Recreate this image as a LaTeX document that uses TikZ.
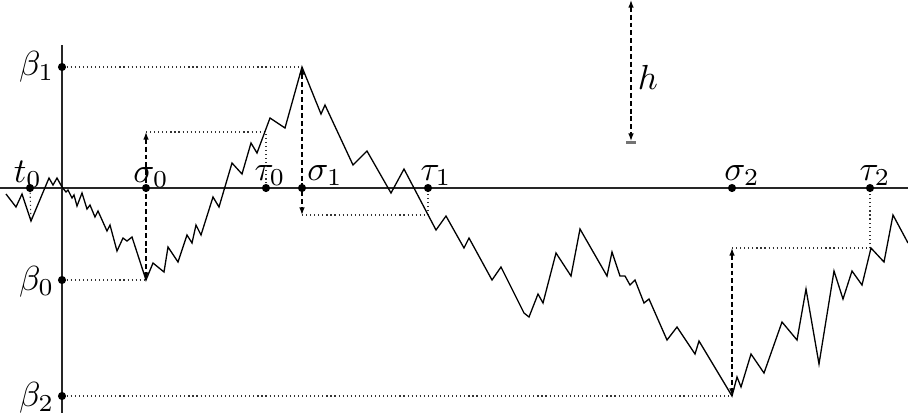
\documentclass[tikz,border=0pt]{standalone}
\usetikzlibrary{arrows.meta}
\begin{document}
\begin{tikzpicture}[x=0.345pt,y=-0.345pt,
  axisline/.style={line width=0.5pt,black!85},
  dotmark/.style={circle,fill=black,inner sep=0pt,minimum size=2.8pt},
  guide/.style={densely dotted,line width=0.4pt,black!80},
  harrow/.style={dash pattern=on 1.7pt off 1pt,line width=0.45pt,{Latex[length=2.6pt,width=1.9pt]}-{Latex[length=2.6pt,width=1.9pt]}},
  walk/.style={line width=0.45pt,line join=miter},
  lab/.style={anchor=base,inner sep=0pt,scale=1.2},
  ylab/.style={anchor=east,inner sep=0pt,scale=1.2}]
\useasboundingbox (0,0) rectangle (908,419);
% axes
\coordinate (xl) at (0,188);
\coordinate (xr) at (908,188);
\coordinate (yt) at (62,45);
\coordinate (yb) at (62,413);
\draw[axisline] (xl) -- (xr);
\draw[axisline] (yt) -- (yb);
% marked points on the axes
\node[dotmark] (t0) at (30,188) {};
\node[dotmark] (s0) at (146,188) {};
\node[dotmark] (u0) at (266,188) {};
\node[dotmark] (s1) at (302,188) {};
\node[dotmark] (u1) at (428,188) {};
\node[dotmark] (s2) at (732,188) {};
\node[dotmark] (u2) at (870,188) {};
\node[dotmark] (b1) at (62,67) {};
\node[dotmark] (b0) at (62,280) {};
\node[dotmark] (b2) at (62,396) {};
% labels
\node[lab] (lt0) at (28,182) {$t_0$};
\node[lab] (ls0) at (151,182) {$\sigma_0$};
\node[lab] (lu0) at (270,180) {$\tau_0$};
\node[lab] (ls1) at (325,180) {$\sigma_1$};
\node[lab] (lu1) at (436,180) {$\tau_1$};
\node[lab] (ls2) at (742,180) {$\sigma_2$};
\node[lab] (lu2) at (875,180) {$\tau_2$};
\node[ylab] (lb1) at (55,67) {$\beta_1$};
\node[ylab] (lb0) at (55,282) {$\beta_0$};
\node[ylab] (lb2) at (55,398) {$\beta_2$};
\node[inner sep=0pt,scale=1.2] (lh) at (648,77) {$h$};
% guide coordinates
\coordinate (m0) at (31,221);
\coordinate (p0) at (146,280);
\coordinate (q0) at (146,132);
\coordinate (r0) at (266,132);
\coordinate (p1) at (302,67);
\coordinate (q1) at (302,215);
\coordinate (r1) at (428,215);
\coordinate (p2) at (732,396);
\coordinate (q2) at (732,248);
\coordinate (r2) at (870,248);
\coordinate (ht) at (631,0);
\coordinate (hb) at (631,141);
\coordinate (hbl) at (626,142.5);
\coordinate (hbr) at (636,142.5);
% dotted guides
\draw[guide] (t0) -- (m0);
\draw[guide] (b0) -- (p0);
\draw[guide] (b1) -- (p1);
\draw[guide] (b2) -- (p2);
\draw[guide] (q0) -- (r0) -- (u0);
\draw[guide] (q1) -- (r1) -- (u1);
\draw[guide] (q2) -- (r2) -- (u2);
% dashed double arrows of length h
\draw[harrow] (q0) -- (p0);
\draw[harrow] (p1) -- (q1);
\draw[harrow] (q2) -- (p2);
\draw[harrow] (ht) -- (hb);
\draw[line width=0.8pt,black!55] (hbl) -- (hbr);
% the walk
\draw[walk] (6,194) -- (16,207) -- (22,194) -- (31,221) -- (49,178) -- (53,185) -- (57,178)
 -- (62,187) -- (66,192) -- (68,190) -- (72,198) -- (74,195) -- (77,206) -- (82,193)
 -- (87,209) -- (90,205) -- (95,217) -- (98,211) -- (107,231) -- (110,225) -- (117,251)
 -- (123,238) -- (127,241) -- (132,237) -- (146,280)
 -- (153,263) -- (164,272) -- (168,247) -- (178,262) -- (187,235) -- (192,243) -- (196,225)
 -- (201,235) -- (213,197) -- (219,207) -- (232,163) -- (242,174) -- (251,143) -- (257,153)
 -- (270,118) -- (285,128) -- (302,67)
 -- (321,114) -- (325,105) -- (353,165) -- (367,151) -- (391,193) -- (404,169) -- (436,230)
 -- (446,216) -- (464,248) -- (469,238) -- (492,280) -- (501,267) -- (524,313) -- (529,317)
 -- (538,294) -- (543,303) -- (556,253) -- (571,276) -- (580,229) -- (607,276) -- (612,252)
 -- (620,276) -- (625,276) -- (630,285) -- (635,280) -- (644,303) -- (649,299) -- (667,340)
 -- (677,327) -- (695,354) -- (699,341) -- (732,396)
 -- (737,377) -- (741,387) -- (751,354) -- (764,373) -- (782,322) -- (797,340) -- (806,289)
 -- (819,364) -- (834,271) -- (843,299) -- (852,271) -- (862,285) -- (871,248) -- (884,262)
 -- (893,215) -- (908,243);
\end{tikzpicture}
\end{document}
